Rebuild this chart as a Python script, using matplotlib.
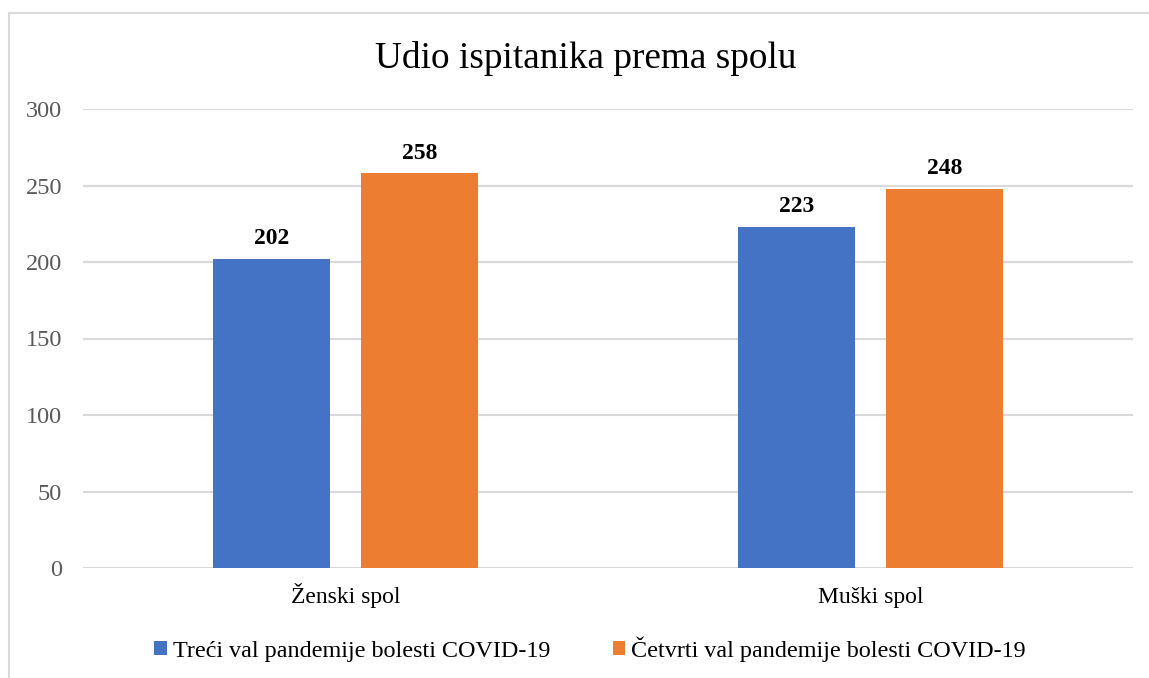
import matplotlib
matplotlib.use("Agg")
import matplotlib.pyplot as plt
from matplotlib.lines import Line2D
from matplotlib.patches import Patch
import numpy as np

categories = ["Ženski spol", "Muški spol"]
series_names = ["Treći val pandemije bolesti COVID-19",
                "Četvrti val pandemije bolesti COVID-19"]
treci = [202, 223]
cetvrti = [258, 248]
yticks = [0, 50, 100, 150, 200, 250, 300]
colors = ["#4472C4", "#ED7D31"]

plt.rcParams['font.family'] = ['Liberation Serif', 'DejaVu Serif']

fig = plt.figure(figsize=(11.49, 6.78), dpi=100)
ax = fig.add_axes([83/1149, 1-568/678, (1133-83)/1149, (568-109)/678])

x = np.arange(len(categories))
w = 0.223
off = 0.141
for vals, o, c in [(treci, -off, colors[0]), (cetvrti, off, colors[1])]:
    bars = ax.bar(x + o, vals, width=w, color=c, zorder=3)
    for b, v in zip(bars, vals):
        ax.annotate(str(v), (b.get_x() + b.get_width()/2, v), xytext=(0, 7),
                    textcoords="offset points", ha="center", va="bottom",
                    fontsize=17, fontweight="bold", color="black")

ax.set_xlim(-0.5, 1.5)
ax.set_ylim(0, 300)
ax.set_yticks(yticks)
ax.set_yticklabels([str(t) for t in yticks], fontsize=17.5, color="#595959")
ax.set_xticks(x)
ax.set_xticklabels([])
for xi, cat in zip(x, categories):
    ax.annotate(cat, (xi, 0), xycoords=('data', 'axes fraction'), xytext=(0, -25.2),
                textcoords="offset points", ha="center", va="baseline",
                fontsize=17, color="black")
ax.tick_params(axis='both', length=0)
ax.tick_params(axis='y', pad=15)
ax.grid(axis='y', color="#d9d9d9", linewidth=1.5, zorder=0)
for s in ax.spines.values():
    s.set_visible(False)

fig.text(586/1149, 1-59/678, "Udio ispitanika prema spolu", ha="center", va="center",
         fontsize=26.8, color="black")

handles = [Patch(facecolor=c, edgecolor='none') for c in colors]
fig.legend(handles, series_names, loc="center", bbox_to_anchor=(590/1149, 1-649/678),
           ncol=2, frameon=False, fontsize=17.4, handlelength=0.5, handleheight=0.5,
           handletextpad=0.25, columnspacing=2.6)

# chart area border (left and top visible)
fig.add_artist(Line2D([9/1149, 9/1149], [0, 1-13/678], color="#d9d9d9", linewidth=1.5,
                      transform=fig.transFigure))
fig.add_artist(Line2D([9/1149, 1], [1-13/678, 1-13/678], color="#d9d9d9", linewidth=1.5,
                      transform=fig.transFigure))

fig.savefig("out.png", dpi=100, facecolor="white")
